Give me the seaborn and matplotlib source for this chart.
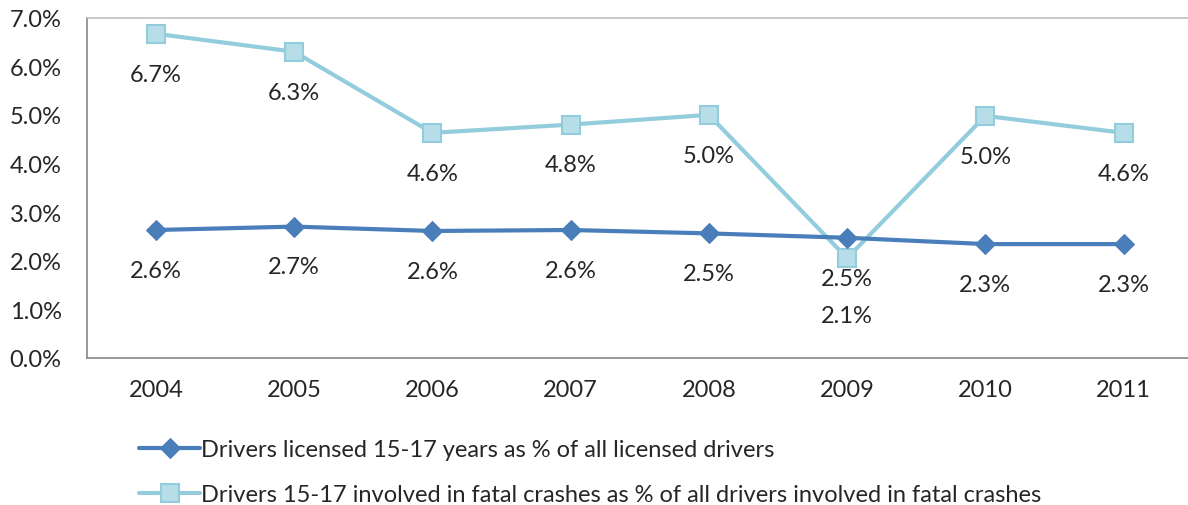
import numpy as np
import pandas as pd
import seaborn as sns
import matplotlib.pyplot as plt
from matplotlib.ticker import FuncFormatter, FixedLocator

years = ["2004", "2005", "2006", "2007", "2008", "2009", "2010", "2011"]
licensed_pct = [2.63, 2.70, 2.61, 2.63, 2.56, 2.47, 2.34, 2.34]
fatal_pct = [6.67, 6.30, 4.63, 4.80, 5.00, 2.05, 4.98, 4.63]
licensed_labels = ["2.6%", "2.7%", "2.6%", "2.6%", "2.5%", "2.5%", "2.3%", "2.3%"]
fatal_labels = ["6.7%", "6.3%", "4.6%", "4.8%", "5.0%", "2.1%", "5.0%", "4.6%"]
licensed_name = "Drivers licensed 15-17 years as % of all licensed drivers"
fatal_name = "Drivers 15-17 involved in fatal crashes as % of all drivers involved in fatal crashes"

sns.set_style("white")
plt.rcParams['font.family'] = ['Lato', 'DejaVu Sans']

dark = "#4a7ebb"
light_line = "#93cddd"
light_fill = "#b7dee8"
grey = "#868686"
txt = "#262626"
fs = 17

fig = plt.figure(figsize=(11.88, 5.06), dpi=100)
ax = fig.add_axes([0.073, 0.291, 0.931, 0.672])

x = np.arange(len(years))
df = pd.DataFrame({"x": x, "licensed": licensed_pct, "fatal": fatal_pct})

sns.lineplot(data=df, x="x", y="licensed", ax=ax, color=dark, linewidth=3,
             marker="D", markersize=10, markeredgecolor=dark, markerfacecolor=dark,
             label=licensed_name, zorder=3)
sns.lineplot(data=df, x="x", y="fatal", ax=ax, color=light_line, linewidth=3,
             marker="s", markersize=13, markeredgecolor=light_line, markeredgewidth=1.5,
             markerfacecolor=light_fill, label=fatal_name, zorder=2)

# data labels below points
for i in range(len(years)):
    ax.annotate(licensed_labels[i], (x[i], licensed_pct[i]), xytext=(0, -29),
                textcoords="offset points", ha="center", va="center",
                fontsize=fs, color=txt)
    off = -41 if i == 5 else -29
    ax.annotate(fatal_labels[i], (x[i], fatal_pct[i]), xytext=(0, off),
                textcoords="offset points", ha="center", va="center",
                fontsize=fs, color=txt)

ax.set_xlim(-0.5, len(years) - 0.5)
ax.set_ylim(0, 7)
ax.set_yticks(np.arange(0, 8, 1))
ax.yaxis.set_major_formatter(FuncFormatter(lambda v, p: f"{v:.1f}%"))
ax.set_xticks(x)
ax.set_xticklabels(years)
ax.xaxis.set_minor_locator(FixedLocator(np.arange(-0.5, len(years), 1)))
ax.tick_params(axis="x", which="major", length=0, pad=15, labelsize=fs, labelcolor=txt)
ax.tick_params(axis="x", which="minor", length=7, width=1, color=grey, direction="out")
ax.tick_params(axis="y", which="major", length=6, width=1, color=grey, direction="out",
               pad=12, labelsize=fs, labelcolor=txt)
ax.set_xlabel("")
ax.set_ylabel("")

for s in ["left", "bottom", "top"]:
    ax.spines[s].set_color(grey)
    ax.spines[s].set_linewidth(1.2)
ax.spines["top"].set_color("#bfbfbf")
ax.spines["right"].set_visible(False)

handles, labels = ax.get_legend_handles_labels()
ax.legend_.remove()
fig.legend(handles, labels, loc="lower left", bbox_to_anchor=(0.099, -0.042),
           frameon=False, fontsize=fs, handlelength=2.6, handletextpad=0.05,
           labelspacing=1.0, labelcolor=txt)

fig.savefig("out.png", dpi=100)
